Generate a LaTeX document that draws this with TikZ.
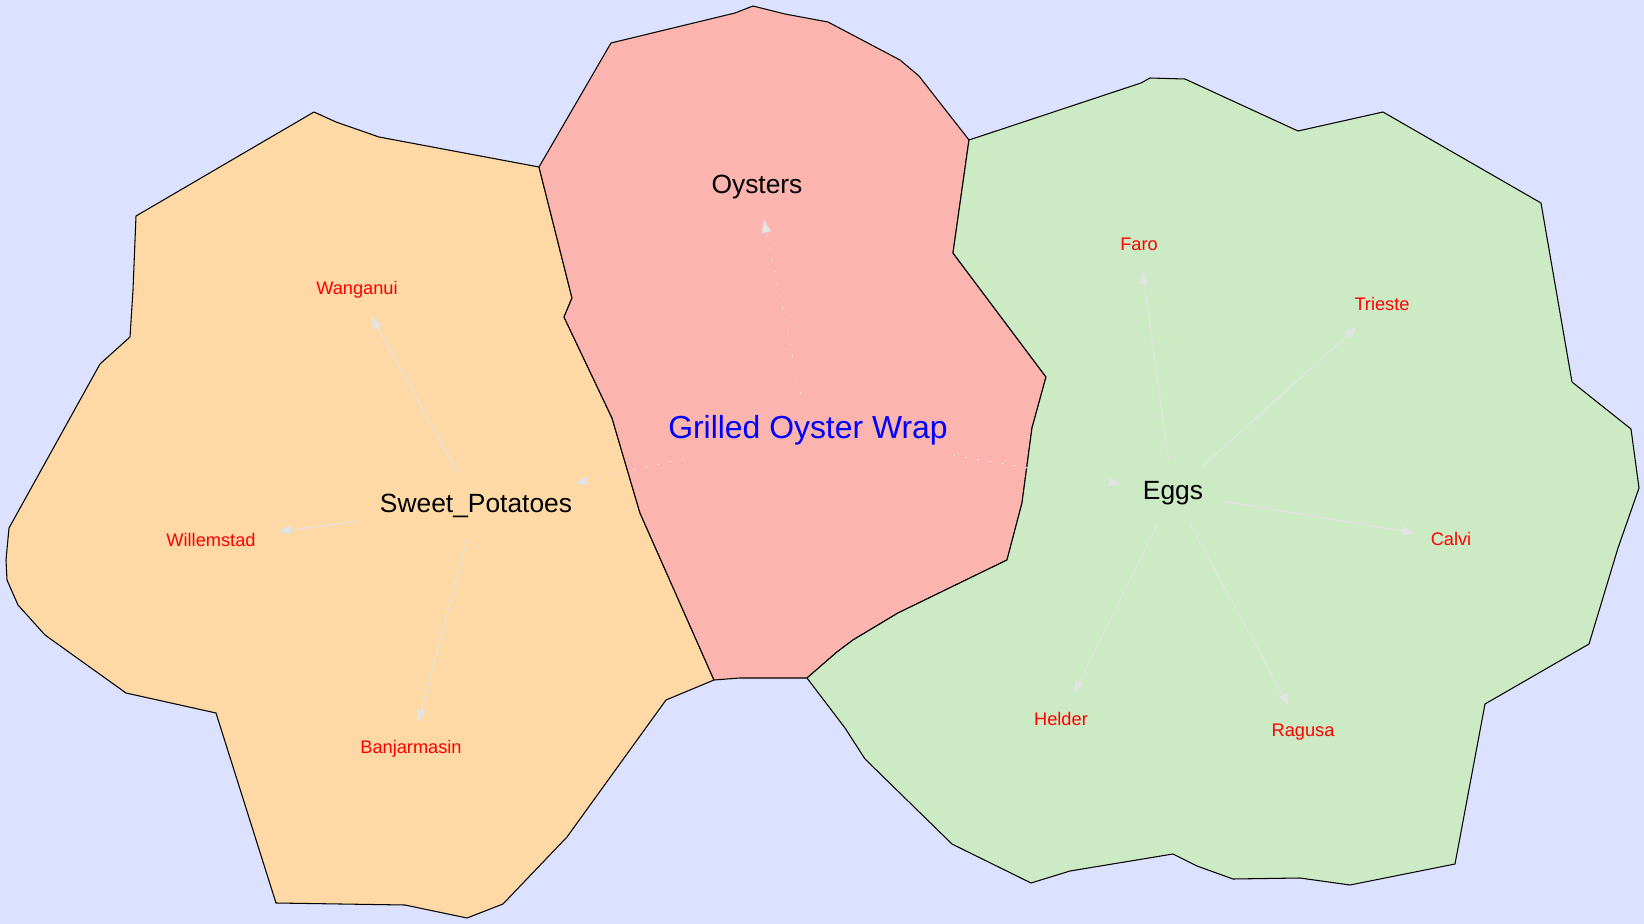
\documentclass[tikz,border=0pt]{standalone}
\usepackage{fontspec}
\setmainfont{Liberation Sans}
\usetikzlibrary{arrows.meta, shapes.geometric}

\definecolor{sea}{HTML}{DBE1FF}
\definecolor{regionorange}{HTML}{FED9A6}
\definecolor{regionred}{HTML}{FBB4AE}
\definecolor{regiongreen}{HTML}{CCEBC5}
\definecolor{linkgray}{HTML}{E3E3E3}

\begin{document}
\begin{tikzpicture}[x=0.01cm, y=-0.01cm,
  region/.style={draw=black, line width=0.3pt, line join=round},
  dish/.style={ellipse, inner sep=0pt, minimum height=0.72cm, text=blue, font=\fontsize{9.07}{11}\selectfont},
  ingredient/.style={ellipse, inner sep=0pt, minimum height=0.64cm, font=\fontsize{7.5}{9}\selectfont},
  city/.style={ellipse, inner sep=0pt, inner xsep=0.05cm, minimum height=0.52cm, text=red, font=\fontsize{5.18}{6}\selectfont},
  link/.style={draw=linkgray, line width=0.3pt, -{Triangle[length=0.13cm, width=0.09cm]}},
  hint/.style={link, dash pattern=on 0.5pt off 3pt}]
  % sea
  \fill[sea] (0,0) rectangle (1644,924);
  % regions
  \filldraw[region, fill=regionorange] (539,167) -- (379,137) -- (336,122) -- (314,112) -- (136,216)
    -- (133,290) -- (130,337) -- (100,364) -- (9,528) -- (6,560) -- (7,580) -- (18,605) -- (45,635)
    -- (126,693) -- (216,713) -- (276,903) -- (405,905) -- (467,918) -- (503,904) -- (567,837)
    -- (666,700) -- (714,680) -- (640,513) -- (612,418) -- (564,317) -- (572,298) -- cycle;
  \filldraw[region, fill=regionred] (539,167) -- (611,43) -- (735,13) -- (753,6) -- (785,14) -- (828,22)
    -- (900,60) -- (919,76) -- (969,140) -- (953,253) -- (1046,377) -- (1032,428) -- (1022,503)
    -- (1007,560) -- (898,613) -- (853,640) -- (837,652) -- (807,678) -- (740,678) -- (714,680)
    -- (640,513) -- (612,418) -- (564,317) -- (572,298) -- cycle;
  \filldraw[region, fill=regiongreen] (969,140) -- (1141,83) -- (1150,78) -- (1185,79) -- (1298,131)
    -- (1383,112) -- (1541,203) -- (1572,382) -- (1631,429) -- (1639,488) -- (1618,548) -- (1589,644)
    -- (1485,704) -- (1455,864) -- (1350,885) -- (1300,878) -- (1233,879) -- (1197,866) -- (1173,854)
    -- (1070,871) -- (1031,883) -- (952,844) -- (865,759) -- (845,728) -- (807,678) -- (837,652)
    -- (853,640) -- (898,613) -- (1007,560) -- (1022,503) -- (1032,428) -- (1046,377) -- (953,253) -- cycle;
  % labels
  \node[dish] (gow) at (808,430) {Grilled Oyster Wrap};
  \node[ingredient] (oys) at (757,187) {Oysters};
  \node[ingredient] (sp) at (476,506) {Sweet\_Potatoes};
  \node[ingredient, minimum width=1.05cm] (eggs) at (1173,493) {Eggs};
  \foreach \n/\x/\y/\t in {wang/357/290/Wanganui, will/211/540/Willemstad, banj/411/749/Banjarmasin,
      faro/1139/244/Faro, tri/1382/304/Trieste, calvi/1451/539/Calvi, hel/1061/719/Helder, rag/1303/732/Ragusa}
    \node[city] (\n) at (\x,\y) {\t};
  % edges
  \foreach \a/\b in {sp/wang, sp/will, sp/banj, eggs/faro, eggs/tri, eggs/calvi, eggs/hel, eggs/rag}
    \draw[link] (\a) -- (\b);
  \foreach \b in {oys, sp, eggs}
    \draw[hint] (gow) -- (\b);
\end{tikzpicture}
\end{document}
